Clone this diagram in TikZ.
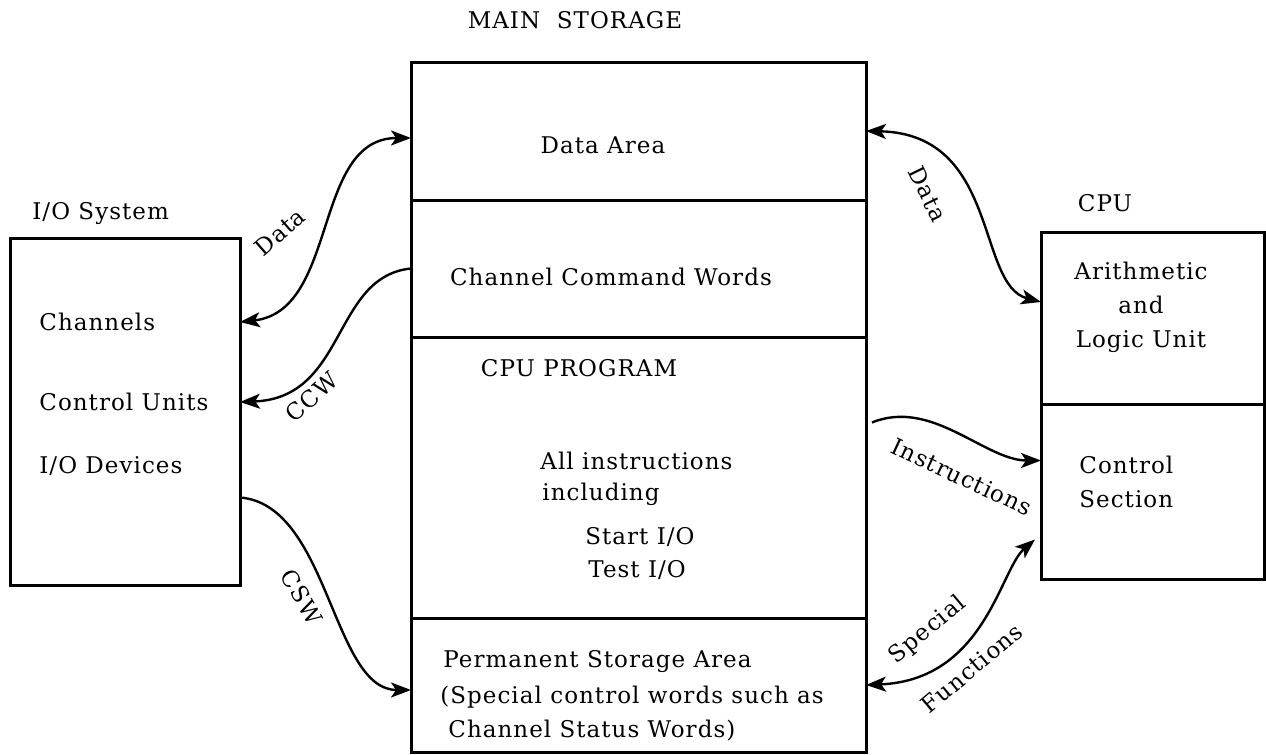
\documentclass[tikz,border=0pt]{standalone}
\usepackage{fontspec}
\setmainfont{DejaVu Serif}[LetterSpace=4.5]
\usetikzlibrary{arrows.meta,positioning}
\tikzstyle{area}=[draw, line width=1.5pt, inner sep=0pt, outer sep=0pt, minimum width=227.5pt]
\tikzstyle{unit}=[area, minimum width=111.5pt]
\tikzstyle{txt}=[inner sep=0pt, font=\fontsize{11.5}{17}\selectfont]
\tikzstyle{lbl}=[txt, anchor=west]
\tikzstyle{flow}=[line width=1.2pt, >={Stealth[length=10pt,width=7.5pt,inset=2.5pt]}]

\begin{document}
\begin{tikzpicture}[x=0.5pt, y=-0.5pt]
    \useasboundingbox (0,0) rectangle (1266,755);
    % main storage
    \node (store) [txt] at (575,20) {MAIN\ \ STORAGE};
    \node (data) [area, minimum height=69pt] at (638.5,131) {};
    \node (ccws) [area, minimum height=68.5pt, below=0pt of data] {};
    \node (prog) [area, minimum height=140.5pt, below=0pt of ccws] {};
    \node (perm) [area, minimum height=67pt, below=0pt of prog] {};
    \node (datat) [txt] at (603,145) {Data Area};
    \node (ccwt) [txt] at (611,277) {Channel Command Words};
    \node (progt) [txt] at (579,368) {CPU PROGRAM};
    \node (allins) [lbl] at (540,461) {All instructions};
    \node (incl) [lbl] at (542,494) {including};
    \node (sio) [lbl] at (585,537) {Start I/O};
    \node (tio) [lbl] at (588,570) {Test I/O};
    \node (permt) [lbl] at (443,662) {Permanent Storage Area};
    \node (spec) [lbl] at (440,697) {(Special control words such as};
    \node (csws) [lbl] at (448,731) {Channel Status Words)};
    %
    % I/O system
    \node (iot) [lbl] at (32,214) {I/O System};
    \node (io) [area, minimum width=115pt, minimum height=173.5pt] at (125,411.5) {};
    \node (chan) [lbl] at (39,322) {Channels};
    \node (cu) [lbl] at (39,402) {Control Units};
    \node (dev) [lbl] at (39,466) {I/O Devices};
    %
    % CPU
    \node (cput) [txt] at (1105,203) {CPU};
    \node (alu) [unit, minimum height=86pt] at (1152.5,318) {};
    \node (ctrl) [unit, minimum height=87.5pt, below=0pt of alu] {};
    \node (alut) [txt, align=center] at (1141,307) {Arithmetic\\and\\Logic Unit};
    \node (ctrlt) [txt, align=left, anchor=west] at (1079,482) {Control\\Section};
    %
    % flows between the units
    \draw [flow, <->] (io.east |- chan) .. controls +(99,-11) and +(-99,0) .. ([yshift=-3.5pt]data.west);
    \node (tdata1) [txt, rotate=41] at (280,232) {Data};
    \draw [flow, ->] (ccws.west) .. controls +(-79,8) and +(107,-4) .. (io.east |- cu);
    \node (tccw) [txt, rotate=42] at (312,397) {CCW};
    \draw [flow, ->] ([yshift=-43pt]io.east) .. controls +(89,7) and +(-79,0) .. ([yshift=-2.5pt]perm.west);
    \node (tcsw) [txt, rotate=-60] at (302,597) {CSW};
    \draw [flow, <->] (data.east) .. controls +(134,3) and +(-65,-17) .. ([yshift=8pt]alu.west);
    \node (tdata2) [txt, rotate=-64] at (928,194) {Data};
    \draw [flow, ->] ([shift={(6,-55)}]prog.east) .. controls +(60,-24.5) and +(-56,0) .. ([shift={(0,-31)}]ctrl.west);
    \node (tins) [txt, rotate=-25] at (962,477) {Instructions};
    \draw [flow, <->] (perm.east) .. controls +(119,-5) and +(-35,30) .. ([shift={(-6,48)}]ctrl.west);
    \node (tspec) [txt, rotate=40] at (928,630) {Special};
    \node (tfun) [txt, rotate=40] at (972,668) {Functions};
\end{tikzpicture}
\end{document}
